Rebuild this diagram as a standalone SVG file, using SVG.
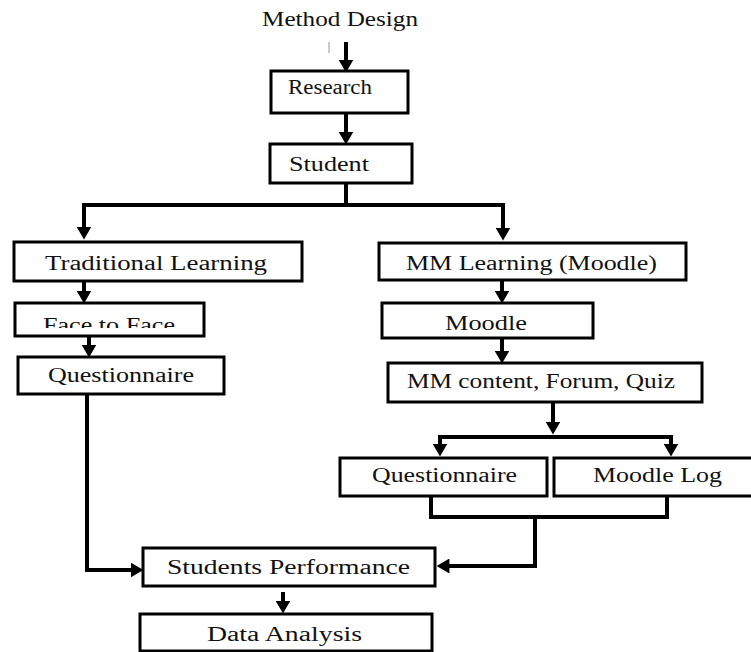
<svg xmlns="http://www.w3.org/2000/svg" width="751" height="652" viewBox="0 0 751 652">
<style>
.box{fill:#fff;stroke:#000;stroke-width:3}
text{font-family:"Liberation Serif","DejaVu Serif","Times New Roman",serif;font-size:20px;fill:#111}
.c{fill:none;stroke:#000;stroke-width:4;stroke-linejoin:miter}
</style>
<defs>
<marker id="ah" viewBox="0 0 12 14" refX="6" refY="7" markerWidth="13" markerHeight="15" markerUnits="userSpaceOnUse" orient="auto">
<path d="M0,0 L12,7 L0,14 Z" fill="#000"/>
</marker>
<clipPath id="fclip"><rect x="16" y="304" width="187" height="24"/></clipPath>
</defs>
<rect width="751" height="652" fill="#fff"/>
<g id="method-design"><text x="262" y="26" textLength="156" lengthAdjust="spacingAndGlyphs">Method Design</text>
<line x1="329" y1="42" x2="329" y2="53" stroke="#999" stroke-width="1"/></g>
<g id="research"><rect class="box" x="271" y="71" width="137" height="42"/><text x="288" y="94" textLength="84" lengthAdjust="spacingAndGlyphs">Research</text></g>
<g id="student"><rect class="box" x="270" y="144" width="142" height="39"/><text x="289" y="171" textLength="80" lengthAdjust="spacingAndGlyphs">Student</text></g>
<g id="traditional"><rect class="box" x="14" y="242" width="288" height="39"/><text x="45" y="270" textLength="222" lengthAdjust="spacingAndGlyphs">Traditional Learning</text></g>
<g id="face"><rect class="box" x="15" y="303" width="189" height="33"/><text x="43" y="332" textLength="132" lengthAdjust="spacingAndGlyphs" clip-path="url(#fclip)">Face to Face</text></g>
<g id="questionnaire-left"><rect class="box" x="18" y="357" width="206" height="37"/><text x="48" y="382" textLength="146" lengthAdjust="spacingAndGlyphs">Questionnaire</text></g>
<g id="mm-learning"><rect class="box" x="379" y="243" width="307" height="37"/><text x="406" y="270" textLength="251" lengthAdjust="spacingAndGlyphs">MM Learning (Moodle)</text></g>
<g id="moodle"><rect class="box" x="382" y="303" width="211" height="35"/><text x="445" y="330" textLength="82" lengthAdjust="spacingAndGlyphs">Moodle</text></g>
<g id="mm-content"><rect class="box" x="388" y="363" width="314" height="39"/><text x="407" y="388" textLength="268" lengthAdjust="spacingAndGlyphs">MM content, Forum, Quiz</text></g>
<g id="questionnaire-right"><rect class="box" x="340" y="458" width="207" height="38"/><text x="372" y="482" textLength="145" lengthAdjust="spacingAndGlyphs">Questionnaire</text></g>
<g id="moodle-log"><rect class="box" x="554" y="458" width="200" height="38"/><text x="593" y="482" textLength="129" lengthAdjust="spacingAndGlyphs">Moodle Log</text></g>
<g id="students-performance"><rect class="box" x="143" y="548" width="292" height="38"/><text x="167" y="574" textLength="243" lengthAdjust="spacingAndGlyphs">Students Performance</text></g>
<g id="data-analysis"><rect class="box" x="140" y="614" width="292" height="37"/><text x="207" y="641" textLength="155" lengthAdjust="spacingAndGlyphs">Data Analysis</text></g>
<g id="connectors">
<path class="c" d="M346,42 V66" marker-end="url(#ah)"/>
<path class="c" d="M346,113 V138" marker-end="url(#ah)"/>
<path class="c" d="M346,183 V205"/>
<path class="c" d="M346,205 H84 V233" marker-end="url(#ah)"/>
<path class="c" d="M346,205 H503 V234" marker-end="url(#ah)"/>
<path class="c" d="M84,281 V297" marker-end="url(#ah)"/>
<path class="c" d="M89,336 V351" marker-end="url(#ah)"/>
<path class="c" d="M87,394 V570 H137" marker-end="url(#ah)"/>
<path class="c" d="M502,280 V297" marker-end="url(#ah)"/>
<path class="c" d="M502,338 V357" marker-end="url(#ah)"/>
<path class="c" d="M553,402 V428" marker-end="url(#ah)"/>
<path class="c" d="M553,437 H440 V450" marker-end="url(#ah)"/>
<path class="c" d="M553,437 H671 V450" marker-end="url(#ah)"/>
<path class="c" d="M431,496 V517 H667 V496"/>
<path class="c" d="M535,517 V566 H443" marker-end="url(#ah)"/>
<path class="c" d="M283,592 V607" marker-end="url(#ah)"/>
</g>
</svg>
